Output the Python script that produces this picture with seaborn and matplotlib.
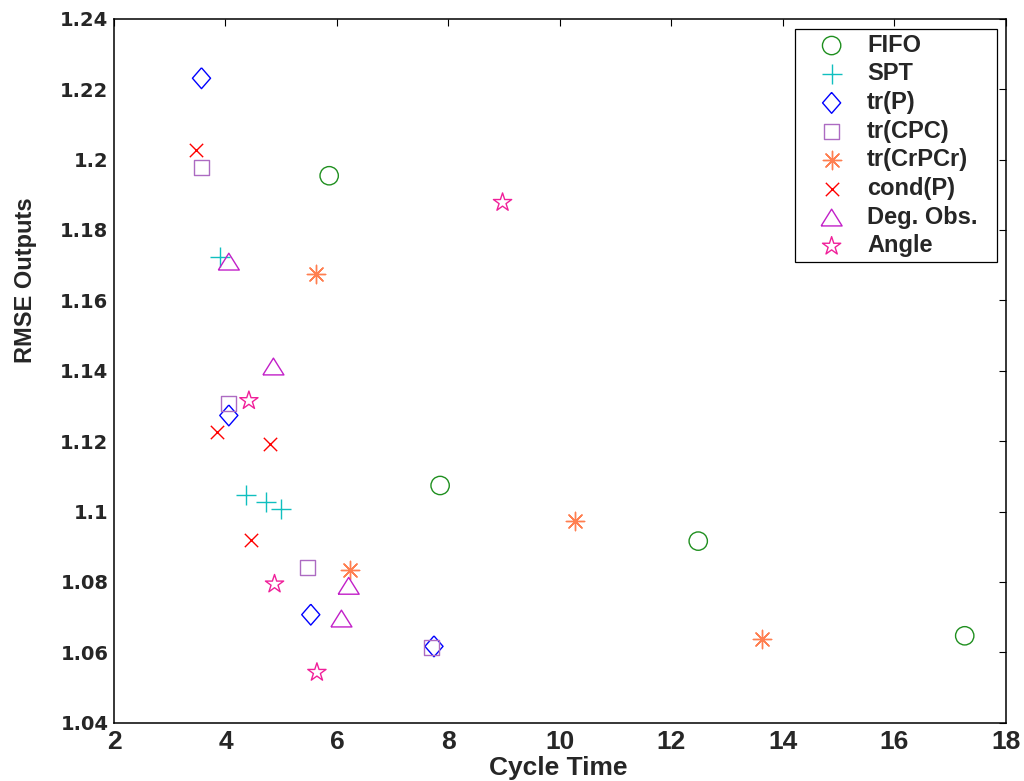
import matplotlib
matplotlib.use("Agg")
import matplotlib.pyplot as plt
import seaborn as sns

# Cycle time vs. RMSE of outputs for each scheduling / selection criterion
fifo_x = [5.86, 7.85, 12.48, 17.26]
fifo_y = [1.1954, 1.1074, 1.0916, 1.0647]

spt_x = [3.90, 4.36, 4.73, 5.00]
spt_y = [1.1724, 1.1048, 1.1027, 1.1008]

trp_x = [3.57, 4.06, 5.53, 7.74]
trp_y = [1.2231, 1.1273, 1.0707, 1.0617]

trcpc_x = [3.57, 4.06, 5.48, 7.69]
trcpc_y = [1.1976, 1.1308, 1.0840, 1.0614]

trcrpcr_x = [5.62, 6.23, 10.27, 13.63]
trcrpcr_y = [1.1674, 1.0835, 1.0972, 1.0639]

condp_x = [3.47, 3.85, 4.79, 4.46]
condp_y = [1.2027, 1.1226, 1.1192, 1.0920]

degobs_x = [4.06, 4.86, 6.21, 6.08]
degobs_y = [1.1710, 1.1412, 1.0789, 1.0696]

angle_x = [8.97, 4.42, 4.88, 5.64]
angle_y = [1.1878, 1.1315, 1.0794, 1.0543]

labels = ["FIFO", "SPT", "tr(P)", "tr(CPC)", "tr(CrPCr)", "cond(P)",
          "Deg. Obs.", "Angle"]
x_ticks = [2, 4, 6, 8, 10, 12, 14, 16, 18]
y_ticks = [1.04, 1.06, 1.08, 1.10, 1.12, 1.14, 1.16, 1.18, 1.20, 1.22, 1.24]
y_tick_labels = ["1.04", "1.06", "1.08", "1.1", "1.12", "1.14", "1.16",
                 "1.18", "1.2", "1.22", "1.24"]

sns.set_style("white")
plt.rcParams["font.family"] = ["Liberation Sans", "DejaVu Sans"]
plt.rcParams["xtick.direction"] = "in"
plt.rcParams["ytick.direction"] = "in"
plt.rcParams["xtick.top"] = True
plt.rcParams["ytick.right"] = True

# MATLAB-like marker shapes
diamond = [(0, 1), (0.87, 0), (0, -1), (-0.87, 0), (0, 1)]
triangle = [(-1, -0.8), (1, -0.8), (0, 0.8), (-1, -0.8)]
asterisk = (8, 2, 0)

series = [
    (fifo_x, fifo_y, "o", 13.2, "#1f8f1f", True),
    (spt_x, spt_y, "+", 13.7, "#10BFBF", False),
    (trp_x, trp_y, diamond, 15.0, "#0000FF", True),
    (trcpc_x, trcpc_y, "s", 10.8, "#AD6BC2", True),
    (trcrpcr_x, trcrpcr_y, asterisk, 13.2, "#FF7F50", False),
    (condp_x, condp_y, "x", 9.6, "#FF0000", False),
    (degobs_x, degobs_y, triangle, 15.1, "#C21FC8", True),
    (angle_x, angle_y, "*", 13.8, "#F0209A", True),
]

fig = plt.figure(figsize=(10.24, 7.81), dpi=100)
ax = fig.add_axes([0.1113, 0.0746, 0.8711, 0.9014])

for (xs, ys, mk, ms, col, hollow), lab in zip(series, labels):
    kws = dict(marker=mk, s=ms ** 2, linewidths=1.0, label=lab, ax=ax,
               edgecolor=col, color=col)
    if hollow:
        kws["facecolor"] = "none"
    sns.scatterplot(x=xs, y=ys, **kws)

ax.set_xlim(2, 18)
ax.set_ylim(1.04, 1.24)
ax.set_xticks(x_ticks)
ax.set_xticklabels([str(t) for t in x_ticks], fontfamily="Liberation Sans",
                   fontweight="bold", fontsize=19)
ax.set_yticks(y_ticks)
ax.set_yticklabels(y_tick_labels, fontfamily="DejaVu Sans",
                   fontweight="bold", fontsize=14)
ax.tick_params(axis="both", length=5, width=0.8, color="black")
ax.tick_params(axis="x", pad=5)
ax.tick_params(axis="y", pad=4)

for sp in ax.spines.values():
    sp.set_color("black")
    sp.set_linewidth(1.1)

ax.set_xlabel("Cycle Time", fontsize=19, fontweight="bold",
              fontfamily="Liberation Sans")
ax.set_ylabel("RMSE Outputs", fontsize=17, fontweight="bold",
              fontfamily="Liberation Sans")
ax.xaxis.set_label_coords(0.498, -0.047)
ax.yaxis.set_label_coords(-0.086, 0.629)

leg = ax.legend(loc="upper left", bbox_to_anchor=(0.7635, 0.653, 0.2265, 0.3324),
                mode="expand", prop={"family": "Liberation Sans", "weight": "bold",
                                     "size": 17},
                frameon=True, fancybox=False, framealpha=1, edgecolor="black",
                borderpad=0.2, labelspacing=0.24, handlelength=2.7,
                handletextpad=0.15, borderaxespad=0, scatterpoints=1)
leg.get_frame().set_linewidth(0.9)

fig.savefig("out.png", dpi=100, facecolor="white")
